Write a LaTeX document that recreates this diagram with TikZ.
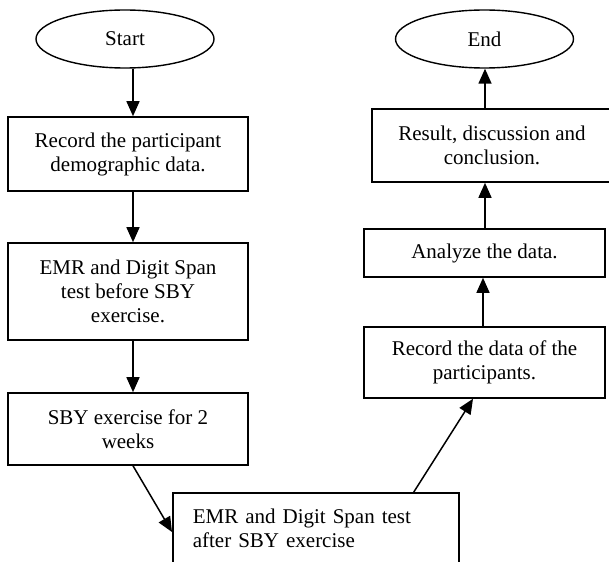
\documentclass[tikz,border=0pt]{standalone}
\usepackage{fontspec}
\setmainfont{Liberation Serif}
\usetikzlibrary{shapes.geometric,arrows.meta}
\begin{document}
\begin{tikzpicture}[x=1pt,y=-1pt,
  every node/.style={font=\fontsize{21}{24}\selectfont},
  box/.style={draw,line width=1.6pt,rectangle,inner sep=0pt,align=center},
  oval/.style={draw,line width=1.4pt,ellipse,inner sep=0pt,minimum width=178pt,minimum height=58pt},
  arr/.style={line width=1.5pt,-{Triangle[length=15pt,width=13pt]}}]
\path[clip] (0,0) rectangle (609,561);
\node[oval] (start) at (125,39) {Start};
\node[oval] (finish) at (484.5,39) {End};
\node[box,minimum width=240pt,minimum height=74pt] (b1) at (128,154) {Record the participant\\demographic data.};
\node[box,minimum width=240pt,minimum height=97pt] (b2) at (128,291.5) {EMR and Digit Span\\test before SBY\\exercise.};
\node[box,minimum width=240pt,minimum height=72pt] (b3) at (128,429) {SBY exercise for 2\\weeks};
\node[box,anchor=north west,align=left,text width=246pt,inner xsep=20pt,inner ysep=17pt,text height=14pt,text depth=50pt] (b5) at (172,492) {EMR and Digit Span test\\after SBY exercise};
\node[box,minimum width=241pt,minimum height=71pt] (rd) at (484.5,362.5) {Record the data of the\\participants.};
\node[box,minimum width=241pt,minimum height=48pt] (an) at (484.5,253) {Analyze the data.};
\node[box,minimum width=240pt,minimum height=73pt] (res) at (492,145.5) {Result, discussion and\\conclusion.};
\draw[arr] ([xshift=8pt]start.south) -- ([xshift=5pt]b1.north);
\draw[arr] ([xshift=5pt]b1.south) -- ([xshift=5pt]b2.north);
\draw[arr] ([xshift=5pt]b2.south) -- ([xshift=5pt]b3.north);
\draw[arr] ([xshift=5pt]b3.south) -- ([yshift=-40pt]b5.north west);
\draw[arr] ([xshift=98pt]b5.north) -- ([xshift=-11.5pt]rd.south);
\draw[arr] ([xshift=-1.5pt]rd.north) -- ([xshift=-1.5pt]an.south);
\draw[arr] ([xshift=0.5pt]an.north) -- ([xshift=-7pt]res.south);
\draw[arr] ([xshift=-7pt]res.north) -- ([xshift=0.5pt]finish.south);
\end{tikzpicture}
\end{document}
